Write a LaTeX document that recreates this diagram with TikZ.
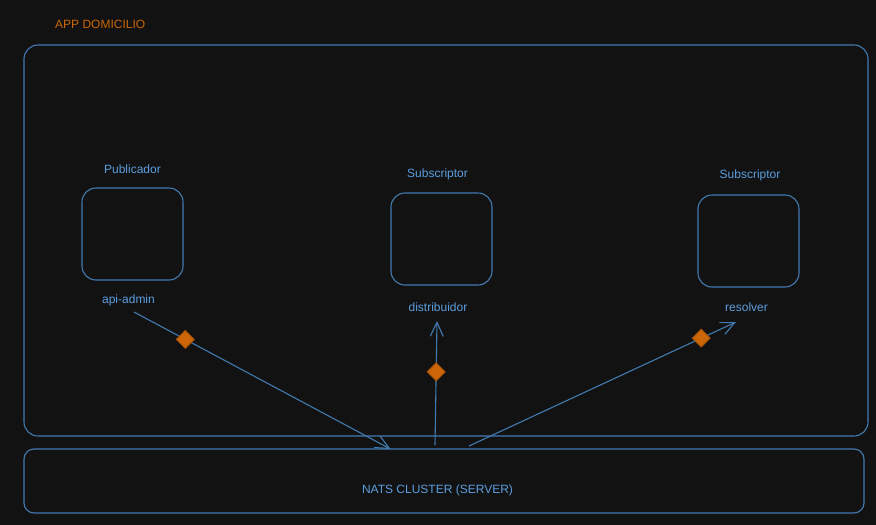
\documentclass[tikz,border=0pt]{standalone}
\usepackage{fontspec}
\setmainfont{Liberation Sans}
\usetikzlibrary{positioning,shapes.geometric,arrows.meta}
\definecolor{night}{RGB}{18,18,18}
\definecolor{edge}{RGB}{66,122,176}
\definecolor{ink}{RGB}{92,158,222}
\definecolor{amber}{RGB}{204,102,8}
\tikzset{
    frame/.style = { draw=edge, line width=1.1pt, rounded corners=14pt, inner sep=0, },
    app/.style = { frame, minimum width=101pt, minimum height=92pt, },
    write/.style = { text=ink, font=\fontsize{12}{14}\selectfont, inner sep=0, },
    flow/.style = { draw=edge, line width=1.1pt, -{Straight Barb[length=14pt,width=13pt,line width=1.1pt]}, },
    gem/.style = { diamond, fill=amber, draw=amber!85!black, minimum size=18pt, inner sep=0, },
}

\begin{document}
\begin{tikzpicture}[x=1pt,y=-1pt]

    \fill [night] (0,0) rectangle (876,525);

    \node [write,text=amber,anchor=west] (title) at (55,24) {APP DOMICILIO};
    \node [frame,minimum width=844pt,minimum height=391pt] (domicilio) at (446,240.5) {};
    \node [frame,rounded corners=10pt,minimum width=840pt,minimum height=64pt] (cluster) at (444,481) {};
    \node [write] (natslbl) at (437.5,490) {NATS CLUSTER (SERVER)};

    \node [app] (pub) at (132.5,234) {};
    \node [app] (dist) at (441.5,239) {};
    \node [app] (res) at (748.5,241) {};

    \node [write,above=14pt of pub] (publbl) {Publicador};
    \node [write,above=12pt of dist,xshift=-4pt] (distlbl) {Subscriptor};
    \node [write,above=13pt of res,xshift=1.5pt] (reslbl) {Subscriptor};

    \node [write,below=14pt of pub,xshift=-4pt] (admin) {api-admin};
    \node [write,below=17pt of dist,xshift=-3.5pt] (distname) {distribuidor};
    \node [write,below=15pt of res,xshift=-2pt] (resname) {resolver};

    \coordinate (out1) at (134,312);
    \coordinate (in1) at (390.5,449);
    \coordinate (out2) at (435,445);
    \coordinate (in2) at (437,321);
    \coordinate (out3) at (469,446);
    \coordinate (in3) at (736,322);

    \draw [flow] (out1) -- node [gem,pos=0.2] (g1) {} (in1);
    \draw [flow] (out2) -- node [gem,pos=0.59] (g2) {} (in2);
    \draw [flow] (out3) -- node [gem,pos=0.87] (g3) {} (in3);

\end{tikzpicture}
\end{document}
